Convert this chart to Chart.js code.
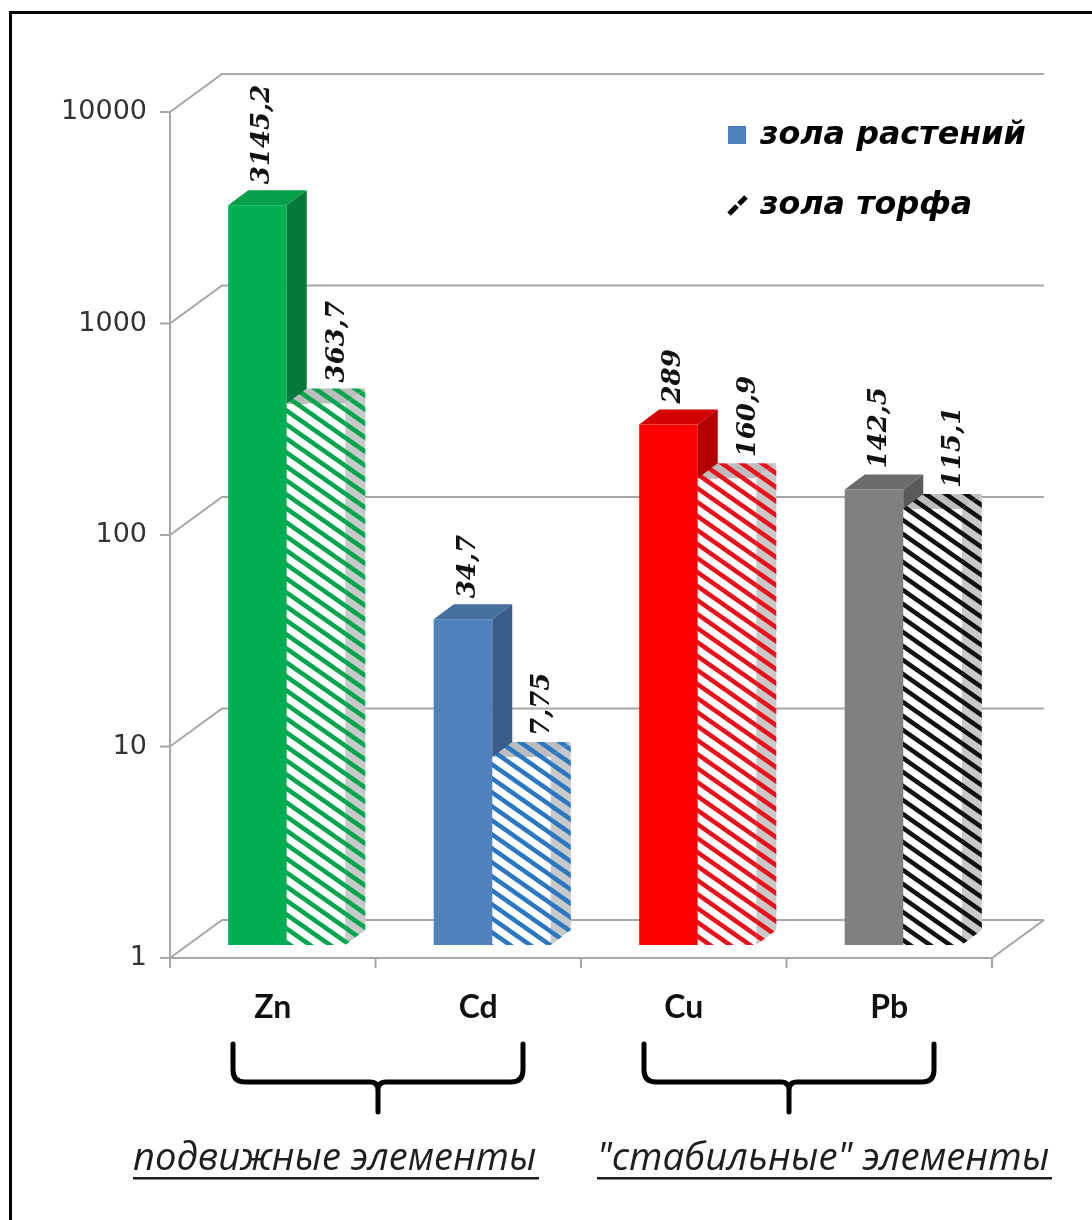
<!DOCTYPE html>
<html>
<head>
<meta charset="utf-8">
<script src="https://cdn.jsdelivr.net/npm/chart.js@4.4.1/dist/chart.umd.min.js"></script>
<style>
  html, body { margin: 0; padding: 0; background: #ffffff; }
  canvas { display: block; }
</style>
</head>
<body>
<canvas id="chart" width="1092" height="1220"></canvas>
<script>
// Element content in plant ash vs peat ash (log scale)
const categories   = ['Zn', 'Cd', 'Cu', 'Pb'];
const seriesNames  = ['зола растений', 'зола торфа'];
const plantAsh     = [3145.2, 34.7, 289, 142.5];
const peatAsh      = [363.7, 7.75, 160.9, 115.1];
const yTicks       = [1, 10, 100, 1000, 10000];
const groupLabels  = ['подвижные элементы', '"стабильные" элементы'];
const groupRanges  = [[0, 1], [2, 3]];

// Per-element colours: front face, top face, side face, hatch stripe
const palette = [
  { front: '#00b050', top: '#06a049', side: '#06793a', stripe: '#00a54e' },
  { front: '#4f81bd', top: '#44709f', side: '#385d8a', stripe: '#2a78c2' },
  { front: '#ff0000', top: '#d40000', side: '#b30000', stripe: '#e8121c' },
  { front: '#808080', top: '#6b6b6b', side: '#5a5a5a', stripe: '#111111' }
];

// 3D geometry (pixels)
const FRONT = { dx: -14, dy: 13 };   // bar plane -> front edge of floor/walls
const BACK  = { dx: 38,  dy: -25 };  // bar plane -> back wall
const BAR3D = { dx: 20,  dy: -15 };  // bar depth
const GRID  = '#a6a6a6';

function hatch(stripe, bg) {
  const c = document.createElement('canvas');
  c.width = 20; c.height = 14;
  const g = c.getContext('2d');
  g.fillStyle = bg; g.fillRect(0, 0, 20, 14);
  g.strokeStyle = stripe; g.lineWidth = 4.6; g.lineCap = 'square';
  for (const o of [-14, 0, 14]) {
    g.beginPath(); g.moveTo(-20, o - 14); g.lineTo(40, o + 28); g.stroke();
  }
  return g.createPattern(c, 'repeat');
}

const ctx0 = document.getElementById('chart').getContext('2d');
const frontHatch = palette.map(p => hatch(p.stripe, '#ffffff'));
const sideHatch  = palette.map(p => hatch(p.stripe, '#c9c9c9'));
const topHatch   = palette.map(p => hatch(p.stripe, '#bdbdbd'));

function fmt(v) { return String(v).replace('.', ','); }

function fitFont(ctx, text, style, family, width) {
  ctx.font = `${style} 100px ${family}`;
  const w = ctx.measureText(text).width;
  return `${style} ${(100 * width / w).toFixed(1)}px ${family}`;
}

// top and side faces of one bar element
function drawFaces(ctx, bar, topFill, sideFill) {
  const { x, y, width, base } = bar.getProps(['x', 'y', 'width', 'base'], true);
  const x0 = x - width / 2, x1 = x + width / 2;
  ctx.fillStyle = topFill;
  ctx.beginPath();
  ctx.moveTo(x0, y); ctx.lineTo(x0 + BAR3D.dx, y + BAR3D.dy);
  ctx.lineTo(x1 + BAR3D.dx, y + BAR3D.dy); ctx.lineTo(x1, y);
  ctx.closePath(); ctx.fill();
  ctx.fillStyle = sideFill;
  ctx.beginPath();
  ctx.moveTo(x1, y); ctx.lineTo(x1 + BAR3D.dx, y + BAR3D.dy);
  ctx.lineTo(x1 + BAR3D.dx, base + BAR3D.dy); ctx.lineTo(x1, base);
  ctx.closePath(); ctx.fill();
}

const scene3d = {
  id: 'scene3d',
  beforeDatasetsDraw(chart) {
    const { ctx } = chart;
    const xs = chart.scales.x, ys = chart.scales.y;
    const ca = chart.chartArea;
    const fL = ca.left + FRONT.dx, fR = ca.right + FRONT.dx;
    const bL = ca.left + BACK.dx,  bR = ca.right + BACK.dx;
    ctx.save();
    ctx.strokeStyle = GRID; ctx.lineWidth = 2; ctx.lineCap = 'butt';
    // gridlines: side wall diagonal + back wall horizontal
    yTicks.forEach(v => {
      const p = ys.getPixelForValue(v);
      ctx.beginPath();
      ctx.moveTo(fL, p + FRONT.dy);
      ctx.lineTo(bL, p + BACK.dy);
      ctx.lineTo(bR, p + BACK.dy);
      ctx.stroke();
    });
    // floor front edge + right edge
    const p1 = ys.getPixelForValue(yTicks[0]);
    ctx.beginPath();
    ctx.moveTo(fL - 10, p1 + FRONT.dy);
    ctx.lineTo(fR, p1 + FRONT.dy);
    ctx.lineTo(bR, p1 + BACK.dy);
    ctx.stroke();
    // value axis
    const pTop = ys.getPixelForValue(yTicks[yTicks.length - 1]);
    ctx.beginPath();
    ctx.moveTo(fL, pTop + FRONT.dy);
    ctx.lineTo(fL, p1 + FRONT.dy);
    ctx.stroke();
    // value ticks + labels
    ctx.fillStyle = '#333333';
    ctx.font = '27px "DejaVu Sans"';
    ctx.textAlign = 'right'; ctx.textBaseline = 'middle';
    yTicks.forEach(v => {
      const y = ys.getPixelForValue(v) + FRONT.dy;
      ctx.beginPath(); ctx.moveTo(fL - 10, y); ctx.lineTo(fL, y); ctx.stroke();
      ctx.fillText(String(v), fL - 23, y);
    });
    // category ticks
    const n = categories.length, step = (fR - fL) / n;
    for (let i = 0; i <= n; i++) {
      const x = fL + i * step;
      ctx.beginPath(); ctx.moveTo(x, p1 + FRONT.dy); ctx.lineTo(x, p1 + FRONT.dy + 10); ctx.stroke();
    }
    // category labels
    ctx.fillStyle = '#111111';
    ctx.font = 'bold 32px Lato';
    ctx.textAlign = 'center'; ctx.textBaseline = 'middle';
    categories.forEach((c, i) => {
      ctx.fillText(c, xs.getPixelForValue(i) + FRONT.dx, p1 + FRONT.dy + 50);
    });
    // group braces + captions
    ctx.strokeStyle = '#000000'; ctx.lineWidth = 5; ctx.lineJoin = 'round'; ctx.lineCap = 'round';
    const yTop = p1 + FRONT.dy + 86, yH = yTop + 38, yBot = yH + 30, r = 12;
    groupRanges.forEach(g => {
      const L = fL + g[0] * step + 63, R = fL + (g[1] + 1) * step - 58, C = (L + R) / 2;
      ctx.beginPath();
      ctx.moveTo(L, yTop); ctx.lineTo(L, yH - r);
      ctx.quadraticCurveTo(L, yH, L + r, yH);
      ctx.lineTo(C - 8, yH);
      ctx.quadraticCurveTo(C, yH, C, yH + 8);
      ctx.lineTo(C, yBot);
      ctx.moveTo(R, yTop); ctx.lineTo(R, yH - r);
      ctx.quadraticCurveTo(R, yH, R - r, yH);
      ctx.lineTo(C + 8, yH);
      ctx.quadraticCurveTo(C, yH, C, yH + 8);
      ctx.stroke();
    });
    ctx.fillStyle = '#1e1e1e';
    ctx.textAlign = 'left'; ctx.textBaseline = 'alphabetic';
    const capX = [133, 597], capW = [404, 453];
    groupLabels.forEach((t, k) => {
      ctx.font = fitFont(ctx, t, 'italic', '"Open Sans"', capW[k]);
      ctx.fillText(t, capX[k], 1170);
      ctx.fillRect(capX[k], 1177, capW[k] + 2, 2.5);
    });
    // legend
    ctx.fillStyle = palette[1].front;
    ctx.fillRect(728, 126, 18, 18);
    ctx.strokeStyle = '#000000'; ctx.lineWidth = 5; ctx.lineCap = 'butt';
    ctx.beginPath();
    ctx.moveTo(729, 214); ctx.lineTo(737, 206);
    ctx.moveTo(739, 204); ctx.lineTo(746, 197);
    ctx.stroke();
    ctx.fillStyle = '#000000'; ctx.textBaseline = 'middle';
    const legendFont = fitFont(ctx, seriesNames[0], 'italic bold', '"DejaVu Sans"', 266);
    ctx.font = legendFont;
    ctx.fillText(seriesNames[0], 760, 136);
    ctx.fillText(seriesNames[1], 760, 206);
    // frame
    ctx.fillStyle = '#000000';
    ctx.fillRect(9, 11, 1083, 3);
    ctx.fillRect(9, 11, 3, 1209);
    ctx.restore();
  },
  afterDatasetsDraw(chart) {
    const { ctx } = chart;
    const solid = chart.getDatasetMeta(0).data;
    const peat  = chart.getDatasetMeta(1).data;
    ctx.save();
    // depth pass: solid bar faces, then the peat bar standing beside it
    solid.forEach((bar, i) => {
      drawFaces(ctx, bar, palette[i].top, palette[i].side);
      peat[i].draw(ctx);
      drawFaces(ctx, peat[i], topHatch[i], sideHatch[i]);
    });
    // value labels
    ctx.fillStyle = '#111111';
    ctx.font = 'italic bold 26px "DejaVu Serif"';
    ctx.textAlign = 'left'; ctx.textBaseline = 'middle';
    chart.data.datasets.forEach((ds, di) => {
      chart.getDatasetMeta(di).data.forEach((bar, i) => {
        const off = di === 0 ? 5 : 21;
        ctx.save();
        ctx.translate(bar.x + off, bar.y + BAR3D.dy - 6);
        ctx.rotate(-Math.PI / 2);
        ctx.fillText(fmt(ds.data[i]), 0, 0);
        ctx.restore();
      });
    });
    ctx.restore();
  }
};

new Chart(ctx0, {
  type: 'bar',
  data: {
    labels: categories,
    datasets: [
      { label: seriesNames[0], data: plantAsh,
        backgroundColor: palette.map(p => p.front), borderWidth: 0 },
      { label: seriesNames[1], data: peatAsh,
        backgroundColor: frontHatch, borderWidth: 0 }
    ]
  },
  options: {
    responsive: false,
    animation: false,
    events: [],
    layout: { padding: { left: 184, right: 86, top: 99, bottom: 275 } },
    datasets: { bar: { categoryPercentage: 0.57, barPercentage: 1 } },
    scales: {
      x: { display: false, offset: true },
      y: { type: 'logarithmic', display: false, min: 1, max: 10000 }
    },
    plugins: { legend: { display: false }, tooltip: { enabled: false } }
  },
  plugins: [scene3d]
});
</script>
</body>
</html>
